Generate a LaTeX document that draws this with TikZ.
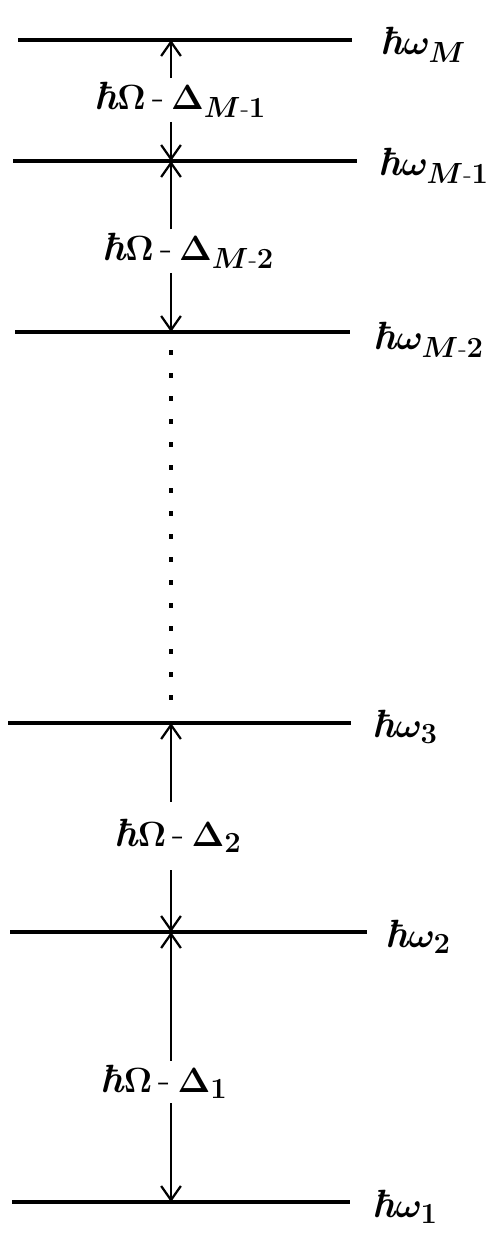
\documentclass[tikz,border=0pt]{standalone}
\usepackage{amsmath}
\usepackage{fontspec}
\usetikzlibrary{arrows.meta}
\newcommand{\hb}{\text{\bfseries\itshape ħ}}

\begin{document}
\begin{tikzpicture}[
	x=0.025cm, y=-0.025cm,
	lvl/.style={line width=2.2pt},
	rot/.style={anchor=west, inner sep=0pt, font=\fontsize{28}{32}\selectfont\boldmath},
	dif/.style={inner sep=3pt, font=\fontsize{28}{32}\selectfont\boldmath},
	arr/.style={-{Straight Barb[length=10pt,width=14pt,line width=1.6pt]}, line width=1.6pt},
	pts/.style={line width=2.4pt, dash pattern=on 0.12cm off 0.455cm, shorten <=0.45cm, shorten >=0.55cm}
	]
	\useasboundingbox (0,0) rectangle (491,1248);

	% levels
	\draw[lvl] (18,40) -- (352,40);
	\draw[lvl] (13,161) -- (357,161);
	\draw[lvl] (15,332) -- (350,332);
	\draw[lvl] (8,723) -- (351,723);
	\draw[lvl] (10,932) -- (367,932);
	\draw[lvl] (12,1202) -- (350,1202);

	\coordinate (tM) at (171,40);
	\coordinate (tM1) at (171,161);
	\coordinate (tM2) at (171,332);
	\coordinate (t3) at (171,723);
	\coordinate (t2) at (171,932);
	\coordinate (t1) at (171,1202);

	\node[rot] (lM) at (380,45) {$\hb\omega_M$};
	\node[rot] (lM1) at (378,166) {$\hb\omega_{M\text{-}1}$};
	\node[rot] (lM2) at (373,340) {$\hb\omega_{M\text{-}2}$};
	\node[rot] (l3) at (372,727) {$\hb\omega_3$};
	\node[rot] (l2) at (385,937) {$\hb\omega_2$};
	\node[rot] (l1) at (372,1207) {$\hb\omega_1$};

	% gaps
	\node[dif] (dM1) at (180,100) {$\hb\Omega\,\text{-}\,\Delta_{M\text{-}1}$};
	\node[dif] (dM2) at (188,251) {$\hb\Omega\,\text{-}\,\Delta_{M\text{-}2}$};
	\node[dif, inner sep=12pt] (d2) at (178,836) {$\hb\Omega\,\text{-}\,\Delta_2$};
	\node[dif] (d1) at (164,1082) {$\hb\Omega\,\text{-}\,\Delta_1$};

	\draw[arr] (dM1.north -| tM) -- (tM);
	\draw[arr] (dM1.south -| tM) -- (tM1);
	\draw[arr] (dM2.north -| tM) -- (tM1);
	\draw[arr] (dM2.south -| tM) -- (tM2);
	\draw[pts] (tM2) -- (t3);
	\draw[arr] (d2.north -| t3) -- (t3);
	\draw[arr] (d2.south -| t3) -- (t2);
	\draw[arr] (d1.north -| t2) -- (t2);
	\draw[arr] (d1.south -| t2) -- (t1);
\end{tikzpicture}
\end{document}
